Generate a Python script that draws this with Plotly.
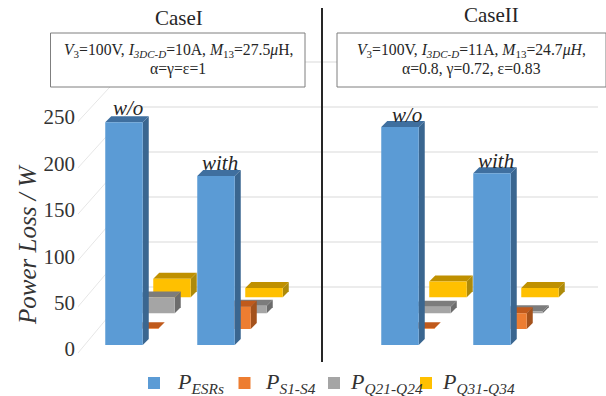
import plotly.graph_objects as go

W, H = 606, 396
L, T, R, B = 78, 0, 0, 0
UX = 92.0      # px per group slot
UY = 0.928     # px per watt

# ---- data ----
groups = ["w/o", "with", "w/o", "with"]
group_pos = [0, 1, 3, 4]
series_names = ["<i>P</i><sub><i>ESRs</i></sub>", "<i>P</i><sub><i>S1-S4</i></sub>",
                "<i>P</i><sub><i>Q21-Q24</i></sub>", "<i>P</i><sub><i>Q31-Q34</i></sub>"]
p_esrs = [240, 182, 235, 185]
p_s = [1, 24, 1, 17]
p_q2 = [17, 8, 7, 2]
p_q3 = [20, 10, 17, 10]
tick_vals = [0, 50, 100, 150, 200, 250]
front_colors = ["#5B9BD5", "#ED7D31", "#A5A5A5", "#FFC000"]
top_colors = ["#3F6F9F", "#C05A1C", "#7C7C7C", "#BF9000"]
side_colors = ["#3A6690", "#A4521C", "#6C6C6C", "#AD8A0A"]
values = [p_esrs, p_s, p_q2, p_q3]

# ---- pseudo-3D geometry, in axis units ----
x0 = 124.0
xr = [(L - x0) / UX, (W - R - x0) / UX]
yr = [(349 - (H - B)) / UY, 349 / UY]
BAR_W = 37.5 / UX
DEPTH_X, DEPTH_Y = 16 / UX, 15.9 / UY   # shift per series row
EX, EY = 6 / UX, 6 / UY                 # bar extrusion
BASE = 4 / UY                           # floor offset of the first row

fig = go.Figure()

def poly(xs, ys, color):
    fig.add_trace(go.Scatter(x=xs + xs[:1], y=ys + ys[:1], mode="lines", fill="toself",
                             fillcolor=color, line=dict(width=0), hoverinfo="skip",
                             showlegend=False))

# wall gridlines
GRID = "#E6E6E6"
WALL_X = (133 - x0) / UX
WALL_END = (598 - x0) / UX
WALL_BASE = (349 - 287) / UY
for v in tick_vals:
    back = WALL_BASE + v * 0.97
    fig.add_trace(go.Scatter(x=[WALL_X, WALL_END], y=[back, back], mode="lines",
                             line=dict(color=GRID, width=1.5), hoverinfo="skip",
                             showlegend=False))
    fig.add_trace(go.Scatter(x=[(73 - x0) / UX, WALL_X], y=[v - 10 / UY, back], mode="lines",
                             line=dict(color=GRID, width=1), hoverinfo="skip",
                             showlegend=False, cliponaxis=False))

# bars: back rows first
for s in [3, 2, 1, 0]:
    for g, pos in enumerate(group_pos):
        xl = pos - BAR_W / 2 + s * DEPTH_X
        xh = xl + BAR_W
        yb = BASE + s * DEPTH_Y
        yt = yb + values[s][g]
        poly([xh, xh + EX, xh + EX, xh], [yb, yb + EY, yt + EY, yt], side_colors[s])
        poly([xl, xl + EX, xh + EX, xh], [yt, yt + EY, yt + EY, yt], top_colors[s])
        poly([xl, xh, xh, xl], [yb, yb, yt, yt], front_colors[s])

def px(x): return (x - L) / (W - L - R)
def py(y): return (H - B - y) / (H - B - T)

SERIF = "Liberation Serif"
def note(x, y, text, size, color="#262626", anchor="center", angle=0):
    fig.add_annotation(x=px(x), y=py(y), xref="paper", yref="paper", text=text, showarrow=False,
                       xanchor=anchor, yanchor="middle", textangle=angle,
                       font=dict(family=SERIF, size=size, color=color))

# legend row: keys drawn as markers, labels as text
key_px = [154, 244.5, 334, 426]
label_start = [175, 263, 348, 440]
for s in range(4):
    fig.add_trace(go.Scatter(x=[(key_px[s] - x0) / UX], y=[(349 - 383) / UY], mode="markers",
                             marker=dict(symbol="square", size=12, color=front_colors[s]),
                             hoverinfo="skip", showlegend=False))
    note(label_start[s], 383, series_names[s], 22, "#333333", anchor="left")

shapes = [
    dict(type="rect", xref="paper", yref="paper", x0=px(50.5), x1=px(305), y0=py(87), y1=py(33),
         line=dict(color="#7F7F7F", width=1), fillcolor="white", layer="above"),
    dict(type="rect", xref="paper", yref="paper", x0=px(337), x1=px(606), y0=py(87), y1=py(33),
         line=dict(color="#7F7F7F", width=1), fillcolor="white", layer="above"),
    dict(type="line", xref="paper", yref="paper", x0=px(322), x1=px(322), y0=py(362), y1=py(8),
         line=dict(color="#262626", width=2), layer="above"),
]
fig.update_layout(shapes=shapes)

note(179, 18, "CaseI", 21)
note(491.5, 15, "CaseII", 21)
note(178, 50, "<i>V</i><sub>3</sub>=100V, <i>I</i><sub><i>3DC-D</i></sub>=10A, <i>M</i><sub>13</sub>=27.5<i>μ</i>H,", 15.7)
note(178, 69, "α=γ=ε=1", 15.7)
note(471, 50, "<i>V</i><sub>3</sub>=100V, <i>I</i><sub><i>3DC-D</i></sub>=11A, <i>M</i><sub>13</sub>=24.7<i>μH</i>,", 15.7)
note(471, 69, "α=0.8, γ=0.72, ε=0.83", 15.7)
label_px = [(128, 108), (220, 163), (407, 115), (496, 161)]
for (x, y), g in zip(label_px, groups):
    note(x, y, f"<i>{g}</i>", 21)
note(27, 245, "<i>Power Loss / W</i>", 25, "#333333", angle=-90)

fig.update_layout(
    width=W, height=H, margin=dict(l=L, r=R, t=T, b=B, pad=0, autoexpand=False),
    paper_bgcolor="white", plot_bgcolor="white", showlegend=False,
    xaxis=dict(range=xr, visible=False, fixedrange=True),
    yaxis=dict(range=yr, tickvals=tick_vals, showgrid=False, zeroline=False, showline=False,
               ticks="", ticklabelstandoff=2, fixedrange=True, automargin=False,
               tickfont=dict(family=SERIF, size=21, color="#333333")),
)
fig.write_html("out.html", config=dict(displayModeBar=False),
               post_script="document.body.style.margin='0';")
